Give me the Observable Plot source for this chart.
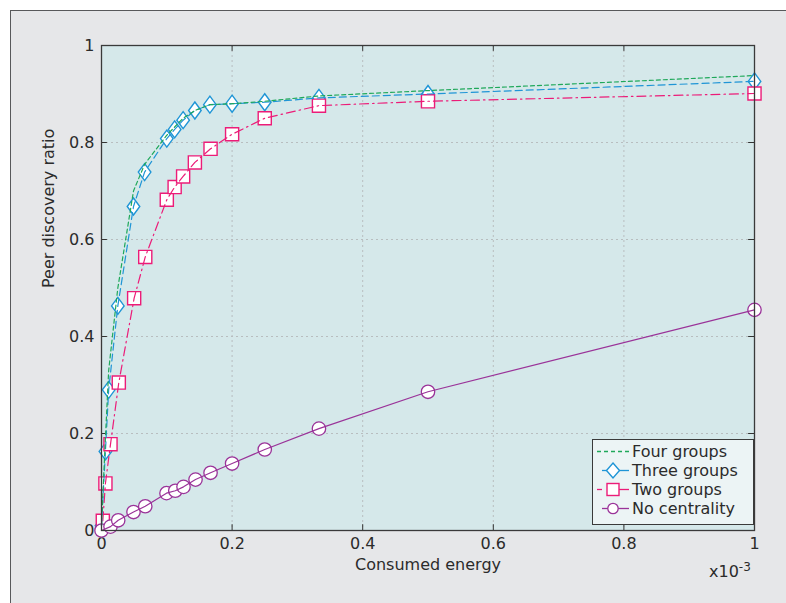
<!DOCTYPE html>
<html>
<head>
<meta charset="utf-8">
<script src="https://cdn.jsdelivr.net/npm/d3@7"></script>
<script src="https://cdn.jsdelivr.net/npm/@observablehq/plot@0.6"></script>
<style>
  body { margin: 0; background: #ffffff; font-family: "DejaVu Sans", sans-serif; }
  #wrap { position: relative; width: 786px; height: 603px; overflow: hidden; }
  #panel { position: absolute; left: 10px; top: 10px; width: 800px; height: 620px;
           background: #e6e7e9; border: 1.5px solid #58595b; }
  #chart { position: absolute; left: 0; top: 0; }
  #legend { position: absolute; left: 592px; top: 439px; width: 162px; height: 86px;
            background: #ecf4f5; border: 1.2px solid #3a3a3a; box-sizing: border-box;
            padding: 2px 0 0 3px; }
  .row { display: flex; align-items: center; height: 19px; line-height: 19px; font-size: 16px; color: #2b2b2b; white-space: nowrap; }
  .row svg { margin-right: 2px; flex: none; }
  #mult { position: absolute; left: 709px; top: 562px; font-size: 16px; line-height: 20px; color: #2b2b2b; }
  #mult sup { font-size: 12px; vertical-align: 6px; line-height: 0; }
</style>
</head>
<body>
<div id="wrap">
  <div id="panel"></div>
  <div id="chart"></div>
  <div id="legend"></div>
  <div id="mult">x10<sup>-3</sup></div>
</div>
<script>
// ---- Data (x in units of 1e-3 consumed energy) ----
const fourX   = [0, 0.006, 0.011, 0.025, 0.049, 0.066, 0.1, 0.112, 0.125, 0.143, 0.166, 0.2, 0.25, 0.333, 0.5, 1];
const fourY   = [0.01, 0.19, 0.33, 0.50, 0.70, 0.755, 0.815, 0.832, 0.85, 0.866, 0.878, 0.880, 0.885, 0.896, 0.907, 0.938];

const threeX  = [0, 0.006, 0.011, 0.025, 0.049, 0.066, 0.1, 0.112, 0.125, 0.143, 0.166, 0.2, 0.25, 0.333, 0.5, 1];
const threeY  = [0.01, 0.163, 0.29, 0.463, 0.668, 0.739, 0.808, 0.827, 0.846, 0.866, 0.878, 0.880, 0.883, 0.892, 0.900, 0.926];

const twoX    = [0.002, 0.006, 0.0138, 0.0265, 0.05, 0.067, 0.1, 0.112, 0.125, 0.143, 0.167, 0.2, 0.25, 0.333, 0.5, 1];
const twoY    = [0.02, 0.097, 0.178, 0.305, 0.479, 0.564, 0.682, 0.708, 0.73, 0.759, 0.787, 0.817, 0.85, 0.876, 0.885, 0.901];

const noneX   = [0, 0.0138, 0.0256, 0.049, 0.067, 0.0995, 0.113, 0.1256, 0.144, 0.167, 0.2, 0.25, 0.333, 0.5, 1];
const noneY   = [0, 0.008, 0.021, 0.038, 0.05, 0.077, 0.082, 0.09, 0.105, 0.119, 0.138, 0.167, 0.21, 0.286, 0.455];

const seriesNames = ["Four groups", "Three groups", "Two groups", "No centrality"];
const xTicks = [0, 0.2, 0.4, 0.6, 0.8, 1];
const yTicks = [0, 0.2, 0.4, 0.6, 0.8, 1];

// ---- Styles ----
const cGreen = "#1fa85a", cBlue = "#1f95d6", cPink = "#ec1c78", cPurple = "#9a3399";
const zip = (xs, ys) => xs.map((x, i) => ({x, y: ys[i]}));
const four = zip(fourX, fourY), three = zip(threeX, threeY), two = zip(twoX, twoY), none = zip(noneX, noneY);

const diamondSym = { draw(ctx, size) { const r = Math.sqrt(size / Math.PI); const hx = r * 0.74;
  ctx.moveTo(0, -r); ctx.lineTo(hx, 0); ctx.lineTo(0, r); ctx.lineTo(-hx, 0); ctx.closePath(); } };
const squareSym = { draw(ctx, size) { const r = Math.sqrt(size / Math.PI); const h = r * 0.78;
  ctx.rect(-h, -h, 2 * h, 2 * h); } };

const font = "'DejaVu Sans', sans-serif";
const inner = [0.2, 0.4, 0.6, 0.8];

const plot = Plot.plot({
  width: 786, height: 603,
  marginLeft: 101, marginRight: 32, marginTop: 45, marginBottom: 73,
  style: { background: "transparent", fontFamily: font, fontSize: "16px", color: "#2b2b2b" },
  x: { domain: [0, 1] },
  y: { domain: [0, 1] },
  marks: [
    Plot.frame({ fill: "#d5e8ea", stroke: null }),
    Plot.gridX(inner, { stroke: "#b8bdbf", strokeOpacity: 1, strokeDasharray: "2,3" }),
    Plot.gridY(inner, { stroke: "#b8bdbf", strokeOpacity: 1, strokeDasharray: "2,3" }),
    Plot.ruleX(inner, { x: d => d, y1: 0, y2: 0.012, stroke: "#333" }),
    Plot.ruleX(inner, { x: d => d, y1: 1, y2: 0.988, stroke: "#333" }),
    Plot.ruleY(inner, { y: d => d, x1: 0, x2: 0.009, stroke: "#333" }),
    Plot.ruleY(inner, { y: d => d, x1: 1, x2: 0.991, stroke: "#333" }),
    Plot.axisX({ ticks: xTicks, tickSize: 0, tickPadding: 7, tickFormat: d => String(d), label: null, fontSize: 16 }),
    Plot.axisY({ ticks: yTicks, tickSize: 0, tickPadding: 7, tickFormat: d => String(d), label: null, fontSize: 16 }),
    Plot.dot(three, { x: "x", y: "y", symbol: diamondSym, r: 8.5, fill: "white", stroke: cBlue, strokeWidth: 1.4 }),
    Plot.dot(two, { x: "x", y: "y", symbol: squareSym, r: 8.4, fill: "white", stroke: cPink, strokeWidth: 1.4 }),
    Plot.dot(none, { x: "x", y: "y", r: 6.7, fill: "white", stroke: cPurple, strokeWidth: 1.3 }),
    Plot.line(none, { x: "x", y: "y", stroke: cPurple, strokeWidth: 1.2 }),
    Plot.line(two, { x: "x", y: "y", stroke: cPink, strokeWidth: 1.2, strokeDasharray: "9,4,1.5,4" }),
    Plot.line(three, { x: "x", y: "y", stroke: cBlue, strokeWidth: 1.2, strokeDasharray: "7,4" }),
    Plot.line(four, { x: "x", y: "y", stroke: cGreen, strokeWidth: 1.2, strokeDasharray: "4,3" }),
    Plot.frame({ stroke: "#3a3a3a", strokeWidth: 1.3 }),
    Plot.text(["Consumed energy"], { frameAnchor: "bottom", dy: 39, fontSize: 16, fill: "#2b2b2b" }),
    Plot.text(["Peer discovery ratio"], { frameAnchor: "left", dx: -53, rotate: -90, fontSize: 16, fill: "#2b2b2b" })
  ]
});
document.getElementById("chart").appendChild(plot);

// ---- Legend ----
const legendItems = [
  { name: seriesNames[0], color: cGreen, dash: "4,3", marker: null },
  { name: seriesNames[1], color: cBlue, dash: null, marker: "diamond" },
  { name: seriesNames[2], color: cPink, dash: null, marker: "square" },
  { name: seriesNames[3], color: cPurple, dash: null, marker: "circle" }
];
const leg = document.getElementById("legend");
for (const it of legendItems) {
  const row = document.createElement("div");
  row.className = "row";
  let m = "";
  if (it.marker === "diamond") m = `<path d="M17,2 L23.5,9.5 L17,17 L10.5,9.5 Z" fill="white" stroke="${it.color}" stroke-width="1.4"/>`;
  if (it.marker === "square") m = `<rect x="11" y="3.5" width="12" height="12" fill="white" stroke="${it.color}" stroke-width="1.4"/>`;
  if (it.marker === "circle") m = `<circle cx="17" cy="9.5" r="5.2" fill="white" stroke="${it.color}" stroke-width="1.3"/>`;
  const lineDash = it.marker === "square" ? `<line x1="1" y1="9.5" x2="6" y2="9.5" stroke="${it.color}" stroke-width="1.3"/><line x1="11" y1="9.5" x2="33" y2="9.5" stroke="${it.color}" stroke-width="1.3"/>`
    : `<line x1="${it.marker ? 6 : 1}" y1="9.5" x2="33" y2="9.5" stroke="${it.color}" stroke-width="1.3" ${it.dash ? `stroke-dasharray="${it.dash}"` : ""}/>`;
  row.innerHTML = `<svg width="34" height="19">${lineDash}${m}</svg><span>${it.name}</span>`;
  leg.appendChild(row);
}
</script>
</body>
</html>
